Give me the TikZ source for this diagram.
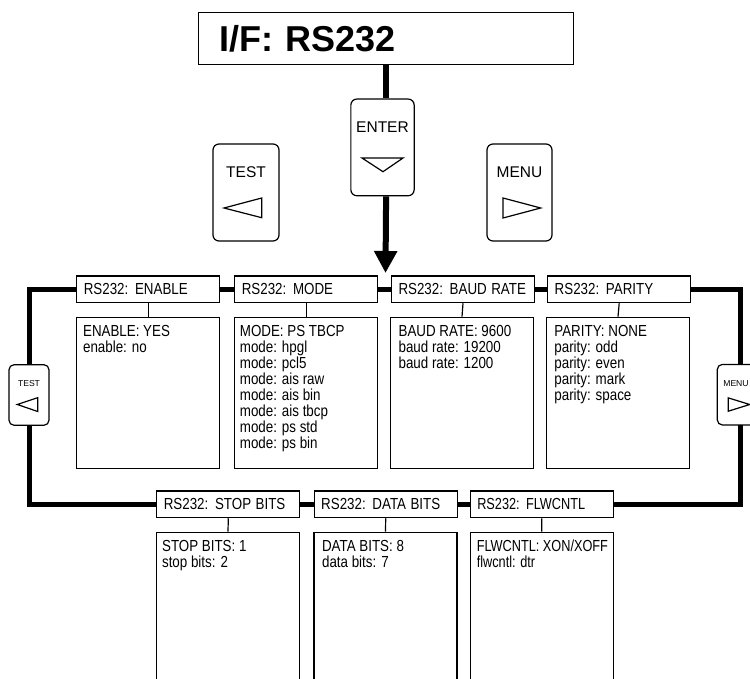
\documentclass[tikz,border=0pt]{standalone}
\usepackage{fontspec}
\usepackage{graphicx}
\setmainfont{Liberation Sans}
\newcommand\nx[1]{\scalebox{0.835}[1]{#1}}
\newcommand\nxx[1]{\scalebox{0.795}[1]{#1}}
\usetikzlibrary{arrows.meta}
\begin{document}
\begin{tikzpicture}[x=1bp,y=-1bp,
  hdr/.style={draw, line width=1.2bp, fill=white, minimum height=26.7bp,
    inner xsep=7bp, inner ysep=0pt, text width=129bp, align=left,
    font=\fontsize{16bp}{16bp}\selectfont},
  cbox/.style={draw, line width=1.2bp, fill=white, minimum width=143bp,
    inner sep=0pt, anchor=north},
  txt/.style={anchor=north west, inner sep=0pt, align=left,
    font=\fontsize{16bp}{16bp}\selectfont},
  keybox/.style={draw, line width=1.2bp, rounded corners=6bp, fill=white, inner sep=0pt},
  keytxt/.style={anchor=base, inner sep=0pt, font=\fontsize{15.5bp}{16bp}\selectfont},
  smalltxt/.style={anchor=base, inner sep=0pt, font=\fontsize{8.6bp}{9bp}\selectfont},
  tri/.style={line width=1.2bp},
  loopline/.style={line width=5bp},
  feed/.style={line width=6bp},
  link/.style={line width=1.2bp}
]
\useasboundingbox (0,0) rectangle (750,679);

% title box
\node[draw, line width=1.2bp, minimum height=52bp, inner xsep=21.3bp, inner ysep=0pt,
  text width=332.4bp, align=left, anchor=north west,
  font=\bfseries\fontsize{36bp}{40bp}\selectfont] (title) at (198,12) {I/F: RS232};

% keys
\node[keybox, minimum width=63.3bp, minimum height=96.7bp] (enter) at (382.5,147.4) {};
\node[keytxt] (entertxt) at (382.5,132.3) {ENTER};
\draw[tri] (362,158) -- (403,158) -- (383,171.7) -- cycle;

\node[keybox, minimum width=66bp, minimum height=97bp] (test) at (246,192.5) {};
\node[keytxt] (testtxt) at (246,177.3) {TEST};
\draw[tri] (224,208) -- (261.7,198) -- (261.7,217.7) -- cycle;

\node[keybox, minimum width=65bp, minimum height=97bp] (menu) at (519.5,192.5) {};
\node[keytxt] (menutxt) at (519.5,177.3) {MENU};
\draw[tri] (540.7,208) -- (503,198) -- (503,218) -- cycle;

% feed line and arrow
\coordinate (tip) at (385.5,273);
\draw[feed] (title.south) -- (title.south |- enter.north);
\draw[feed, -{Triangle[width=22bp,length=22bp]}] (title.south |- enter.south) -- (tip);

% headers top row
\node[hdr] (h1) at (148.3,289.3) {\nx{RS232: ENABLE}};
\node[hdr] (h2) at (306.3,289.3) {\nx{RS232: MODE}};
\node[hdr] (h3) at (463,289.3) {\nx{RS232: BAUD RATE}};
\node[hdr] (h4) at (619.2,289.3) {\nx{RS232: PARITY}};
% headers bottom row
\node[hdr] (b1) at (228.3,504.3) {\nx{RS232: STOP BITS}};
\node[hdr] (b2) at (385.7,504.3) {\nx{RS232: DATA BITS}};
\node[hdr] (b3) at (541.8,504.3) {\nxx{RS232: FLWCNTL}};

% content boxes
\node[cbox, minimum height=151.3bp] (c1) at (148.3,316.7) {};
\node[cbox, minimum height=151.3bp] (c2) at (306.3,316.7) {};
\node[cbox, minimum height=151.3bp] (c3) at (462,316.7) {};
\node[cbox, minimum height=151.3bp] (c4) at (618,316.7) {};
\node[cbox, minimum height=180bp] (d1) at (228,531.7) {};
\node[cbox, minimum height=180bp] (d2) at (385.5,531.7) {};
\node[cbox, minimum height=180bp] (d3) at (541.7,531.7) {};

\foreach \h/\c in {h1/c1,h2/c2,h3/c3,h4/c4,b1/d1,b2/d2,b3/d3}
  \draw[link] (\h.south) -- (\c.north);

% content texts
\node[txt, xshift=6.7bp, yshift=-6bp] (t1) at (c1.north west)
  {\rule{0pt}{14bp}\nx{ENABLE: YES}\\\nx{enable: no}};
\node[txt, xshift=5.5bp, yshift=-6bp] (t2) at (c2.north west)
  {\rule{0pt}{14bp}\nx{MODE: PS TBCP}\\\nx{mode: hpgl}\\\nx{mode: pcl5}\\\nx{mode: ais raw}\\\nx{mode: ais bin}\\\nx{mode: ais tbcp}\\\nx{mode: ps std}\\\nx{mode: ps bin}};
\node[txt, xshift=8.5bp, yshift=-6bp] (t3) at (c3.north west)
  {\rule{0pt}{14bp}\nx{BAUD RATE: 9600}\\\nx{baud rate: 19200}\\\nx{baud rate: 1200}};
\node[txt, xshift=8.3bp, yshift=-6bp] (t4) at (c4.north west)
  {\rule{0pt}{14bp}\nx{PARITY: NONE}\\\nx{parity: odd}\\\nx{parity: even}\\\nx{parity: mark}\\\nx{parity: space}};
\node[txt, xshift=6bp, yshift=-6bp] (u1) at (d1.north west)
  {\rule{0pt}{14bp}\nx{STOP BITS: 1}\\\nx{stop bits: 2}};
\node[txt, xshift=8.5bp, yshift=-6bp] (u2) at (d2.north west)
  {\rule{0pt}{14bp}\nx{DATA BITS: 8}\\\nx{data bits: 7}};
\node[txt, xshift=7bp, yshift=-6bp] (u3) at (d3.north west)
  {\rule{0pt}{14bp}\nxx{FLWCNTL: XON/XOFF}\\\nxx{flwcntl: dtr}};

% loop
\coordinate (lx) at (29,0);
\coordinate (rx) at (740,0);
\draw[loopline] (h1.west) -- (h1.west -| lx) -- (b1.west -| lx) -- (b1.west);
\draw[loopline] (h4.east) -- (h4.east -| rx) -- (b3.east -| rx) -- (b3.east);
\draw[loopline] (h1.east) -- (h2.west);
\draw[loopline] (h2.east) -- (h3.west);
\draw[loopline] (h3.east) -- (h4.west);
\draw[loopline] (b1.east) -- (b2.west);
\draw[loopline] (b2.east) -- (b3.west);

% side keys
\node[keybox, rounded corners=5bp, minimum width=40bp, minimum height=60.5bp] (lk) at (29,395) {};
\node[smalltxt] (lktxt) at (29,386) {TEST};
\draw[tri] (17.3,404.5) -- (37.7,397.7) -- (37.7,411.5) -- cycle;

\node[keybox, rounded corners=5bp, minimum width=40bp, minimum height=60.5bp] (rk) at (737.3,394.7) {};
\node[smalltxt] (rktxt) at (736,386) {MENU};
\draw[tri] (749.7,404.5) -- (728.3,397.9) -- (728.3,411.2) -- cycle;
\end{tikzpicture}
\end{document}
